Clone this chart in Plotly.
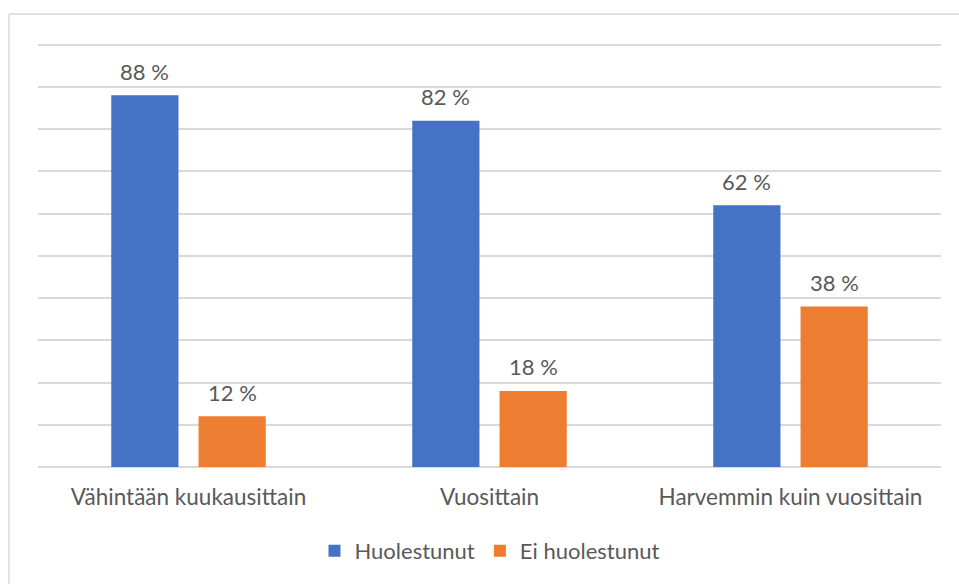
import plotly.graph_objects as go

categories = ["Vähintään kuukausittain", "Vuosittain", "Harvemmin kuin vuosittain"]
huolestunut = [88, 82, 62]
ei_huolestunut = [12, 18, 38]
series_names = ["Huolestunut", "Ei huolestunut"]
colors = ["#4472C4", "#ED7D31"]

font_family = "Lato, 'Open Sans', sans-serif"
text_gray = "#595959"
grid_gray = "#d9d9d9"

W, H = 959, 584
margin = dict(l=38, r=18, t=43, b=117)
bargap, bargroupgap = 0.42, 0.23

fig = go.Figure()
for name, vals, color in zip(series_names, [huolestunut, ei_huolestunut], colors):
    fig.add_trace(
        go.Bar(
            x=categories,
            y=vals,
            name=name,
            marker=dict(color=color, line=dict(width=0)),
        )
    )

# value labels above the bars, shifted sideways to each bar of the group
plot_w = W - margin["l"] - margin["r"]
cat_w = plot_w / len(categories)
offset = cat_w * (1 - bargap) / 4
for k, vals in enumerate([huolestunut, ei_huolestunut]):
    for cat, v in zip(categories, vals):
        fig.add_annotation(
            x=cat,
            y=v,
            text=f"{v} %",
            showarrow=False,
            xshift=-offset if k == 0 else offset,
            yshift=24,
            yanchor="middle",
            font=dict(size=22, color=text_gray, family=font_family),
        )

# chart frame: only the top and left edges are inside the picture
frame = dict(xref="paper", yref="paper", type="line",
             line=dict(color=grid_gray, width=1.5), layer="below")
fx0, fy1 = -0.0321, 1.0684

fig.update_layout(
    width=W,
    height=H,
    margin=margin,
    paper_bgcolor="white",
    plot_bgcolor="white",
    barmode="group",
    bargap=bargap,
    bargroupgap=bargroupgap,
    font=dict(family=font_family, color=text_gray, size=22),
    legend=dict(
        orientation="h",
        x=0.5,
        xanchor="center",
        y=-0.198,
        yanchor="middle",
        font=dict(size=22, color=text_gray),
    ),
    xaxis=dict(
        showgrid=False,
        showline=False,
        ticks="outside",
        ticklen=10,
        tickcolor="rgba(0,0,0,0)",
        tickfont=dict(size=22.5, color=text_gray),
    ),
    yaxis=dict(
        range=[0, 100.4],
        dtick=10,
        showticklabels=False,
        gridcolor=grid_gray,
        gridwidth=1.5,
        zeroline=True,
        zerolinecolor=grid_gray,
        zerolinewidth=1.5,
    ),
    shapes=[
        dict(frame, x0=fx0, x1=1.2, y0=fy1, y1=fy1),
        dict(frame, x0=fx0, x1=fx0, y0=-0.4, y1=fy1),
    ],
)

# no page margin or scrollbars around the figure
fig.write_html(
    "out.html",
    config={"displayModeBar": False},
    post_script=(
        "document.body.style.margin = '0';"
        "document.documentElement.style.overflow = 'hidden';"
    ),
)
